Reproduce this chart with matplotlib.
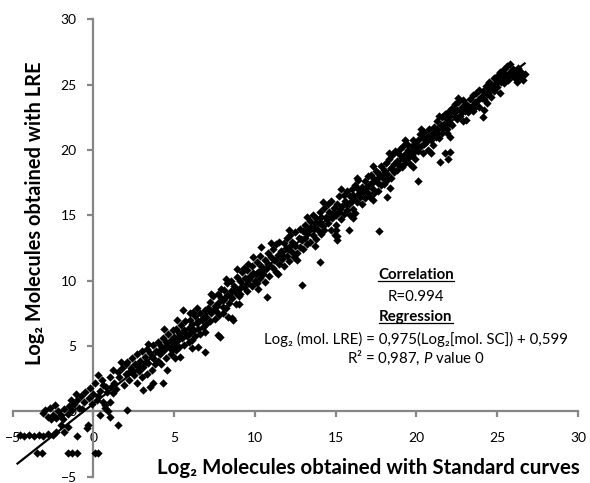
import matplotlib.pyplot as plt
from matplotlib.lines import Line2D

plt.rcParams['font.family'] = ['Lato', 'DejaVu Sans']
plt.rcParams['mathtext.fontset'] = 'custom'
plt.rcParams['mathtext.rm'] = 'Lato'
plt.rcParams['mathtext.it'] = 'Lato:italic'
plt.rcParams['mathtext.bf'] = 'Lato:bold'

# Datos (Log2 moléculas: curva estándar vs LRE)
pts_low = [(-4.55, -1.8), (-4.3, -1.85), (-4.0, -1.8), (-3.7, -1.9), (-3.4, -1.8), (-3.1, -1.85),
           (-2.8, -1.75), (-2.5, -1.8), (-2.3, -1.6), (-3.5, -3.2), (-3.2, -3.2), (-1.6, -3.2),
           (-1.3, -3.2), (-1.0, -3.2), (0.1, -3.2), (0.3, -3.2), (-1.8, -1.6), (-1.0, -1.9),
           (-0.4, -1.3), (-0.35, -1.0), (-1.6, -1.2), (-2.0, -1.0), (-3.1, -0.1), (-3.0, 0.1),
           (-2.8, -0.4), (-2.6, -0.6), (-2.5, -0.3), (-2.3, -0.5), (-2.2, 0.0), (-2.0, -0.3),
           (-1.9, -0.6), (-1.8, 0.2), (-1.6, -0.2), (-1.5, 0.4), (-1.3, 0.1), (-1.2, 0.6),
           (-1.0, 0.9), (-0.9, 0.3), (-0.8, 1.2), (-0.6, 0.7), (-0.5, 1.5), (-0.3, 1.0),
           (-0.2, 1.8), (0.0, 1.3), (0.1, 2.2), (0.2, 0.9), (0.4, 1.6), (0.5, 2.4), (0.6, 0.7),
           (0.7, 0.5), (0.8, 1.9), (0.9, 0.0), (1.0, -0.4), (1.0, 2.6), (1.2, 1.4), (1.3, 2.2),
           (1.5, -1.0), (1.5, 3.0), (1.6, 2.6), (1.8, 3.3), (1.9, 2.0), (2.1, 0.1), (2.0, 3.6),
           (0.4, -0.3), (0.85, 1.5), (1.0, 0.7), (0.7, 0.3), (-2.7, 0.3), (-2.4, 0.5),
           (-1.4, 0.9), (-1.1, 1.3), (-0.7, 0.2), (-0.1, 0.6), (0.3, 1.2), (0.6, 2.0),
           (1.1, 1.9), (1.4, 1.7), (1.7, 3.8), (2.2, 3.0), (1.2, 3.2), (0.3, 2.8)]

pts_a = [(2.0, 2.9), (2.1, 3.8), (2.2, 2.4), (2.3, 3.3), (2.4, 4.1), (2.5, 2.8), (2.6, 3.6),
         (2.7, 2.2), (2.7, 4.4), (2.8, 3.1), (2.9, 3.9), (3.0, 2.6), (3.0, 4.6),
         (3.1, 3.4), (3.2, 4.2), (3.3, 2.9), (3.3, 4.8), (3.4, 3.7), (3.5, 4.5), (3.6, 3.2),
         (3.7, 4.1), (3.7, 5.1), (3.8, 3.6), (3.9, 4.6), (4.0, 3.9), (4.0, 5.3),
         (4.1, 4.4), (4.2, 5.0), (4.2, 3.6), (4.3, 5.6), (4.4, 4.7), (4.5, 5.3), (4.5, 4.1),
         (4.6, 5.9), (4.7, 4.9), (4.8, 5.5), (4.8, 4.4), (4.9, 6.2), (5.0, 5.1), (5.0, 5.7),
         (5.1, 4.7), (5.1, 6.3), (5.2, 5.4), (5.3, 6.0), (5.3, 4.9), (5.4, 6.6), (5.5, 5.6),
         (5.6, 6.2), (5.6, 5.1), (5.7, 6.9), (5.8, 5.8), (5.9, 6.4), (5.9, 5.3), (6.0, 7.0),
         (6.0, 6.0), (6.1, 5.5), (6.1, 6.7), (6.2, 6.2), (6.3, 7.3), (6.3, 5.8), (6.4, 6.8),
         (6.5, 6.3), (6.6, 7.5), (6.6, 5.9), (6.7, 7.0), (6.8, 6.5), (6.9, 7.8), (6.9, 6.1),
         (7.0, 7.2), (7.0, 6.7), (7.1, 7.9), (7.2, 6.9), (7.2, 8.4), (7.3, 7.5), (7.4, 8.8),
         (7.5, 7.1), (7.5, 8.1), (7.6, 7.7), (7.7, 9.0), (7.7, 8.3), (7.8, 7.4), (7.9, 8.7),
         (7.9, 9.4), (8.0, 8.0), (8.0, 7.5)]

pts_b = [(8.1, 8.6), (8.1, 9.3), (8.2, 7.9), (8.3, 8.9), (8.3, 9.8), (8.4, 8.3), (8.5, 9.2),
         (8.5, 10.0), (8.6, 8.7), (8.7, 9.6), (8.8, 8.2), (8.8, 9.1), (8.9, 10.3), (9.0, 9.4),
         (9.0, 8.8), (9.1, 10.0), (9.1, 9.0), (9.2, 10.7), (9.3, 9.5), (9.3, 11.0), (9.4, 10.2),
         (9.5, 9.2), (9.5, 10.8), (9.6, 9.8), (9.6, 11.3), (9.7, 10.4), (9.8, 9.6), (9.8, 11.1),
         (9.9, 10.6), (10.0, 10.0), (10.1, 11.4), (10.1, 9.8), (10.2, 10.7), (10.3, 11.9),
         (10.3, 10.2), (10.4, 11.1), (10.4, 12.6), (10.5, 10.5), (10.6, 11.6), (10.6, 9.9),
         (10.7, 10.9), (10.8, 12.1), (10.8, 11.3), (10.9, 10.4), (11.0, 11.8), (11.1, 11.0),
         (11.1, 12.4), (11.2, 11.6), (11.3, 10.7), (11.3, 12.8), (11.4, 12.0), (11.5, 11.3),
         (11.5, 13.0), (11.6, 12.3), (11.7, 11.7), (11.8, 12.9), (11.8, 11.1), (11.9, 12.5),
         (12.0, 13.3), (12.0, 11.9), (12.1, 12.6), (12.1, 11.5), (12.2, 13.5), (12.3, 12.2),
         (12.3, 13.0), (12.4, 11.8), (12.5, 13.7), (12.5, 12.7), (12.6, 12.1), (12.7, 13.3),
         (12.8, 12.6), (12.8, 14.0), (12.9, 13.1), (13.0, 12.4), (13.0, 13.8), (13.1, 13.3),
         (13.1, 14.3), (13.2, 12.8), (13.3, 13.9), (13.4, 14.6), (13.4, 13.0), (13.5, 14.1),
         (13.6, 13.5), (13.6, 15.0), (13.7, 14.4), (13.8, 13.2), (13.8, 14.8), (13.9, 13.9),
         (14.0, 15.3), (14.0, 14.5)]

pts_c = [(14.1, 13.6), (14.1, 14.9), (14.2, 14.2), (14.3, 15.6), (14.3, 13.9), (14.4, 14.9),
         (14.5, 15.9), (14.5, 14.4), (14.6, 15.3), (14.7, 13.9), (14.7, 16.1), (14.8, 14.8),
         (14.9, 15.6), (15.0, 15.0), (15.0, 14.3), (15.1, 15.9), (15.2, 15.3), (15.2, 16.5),
         (15.3, 14.7), (15.4, 15.7), (15.5, 16.6), (15.5, 15.1), (15.6, 16.1), (15.7, 15.4),
         (15.7, 16.9), (15.8, 15.9), (15.9, 16.5), (15.9, 15.0), (16.0, 17.0), (16.0, 16.1),
         (16.1, 15.5), (16.1, 16.6), (16.2, 17.3), (16.3, 16.0), (16.4, 17.0), (16.4, 17.7),
         (16.5, 16.4), (16.6, 17.2), (16.6, 15.9), (16.7, 16.8), (16.8, 17.6), (16.8, 16.3),
         (16.9, 17.1), (17.0, 16.7), (17.0, 18.0), (17.1, 17.4), (17.1, 16.4), (17.2, 18.1),
         (17.3, 17.0), (17.4, 17.8), (17.4, 16.7), (17.5, 18.4), (17.6, 17.5), (17.6, 16.9),
         (17.7, 18.2), (17.8, 17.3), (17.8, 18.8), (17.9, 17.9), (18.0, 17.4), (18.0, 18.5),
         (18.1, 19.0), (18.2, 18.2), (18.2, 17.7), (18.3, 19.3), (18.4, 18.6), (18.4, 17.9),
         (18.5, 19.6), (18.6, 18.9), (18.6, 18.3), (18.7, 19.9), (18.8, 19.2), (18.8, 18.5),
         (18.9, 19.7), (19.0, 18.8), (19.0, 20.1), (19.1, 19.4), (19.1, 18.7), (19.2, 20.3),
         (19.3, 19.7), (19.3, 19.0), (19.4, 20.5), (19.5, 19.4), (19.5, 20.0), (19.6, 18.9),
         (19.7, 20.3), (19.7, 19.6), (19.8, 20.8), (19.9, 19.9), (19.9, 19.3), (20.0, 20.5)]

pts_d = [(20.1, 19.9), (20.1, 20.8), (20.2, 21.2), (20.3, 20.3), (20.4, 20.9), (20.4, 19.8),
         (20.5, 21.4), (20.6, 20.6), (20.7, 21.1), (20.7, 20.0), (20.8, 21.6), (20.9, 20.8),
         (21.0, 21.3), (21.0, 20.4), (21.1, 21.8), (21.2, 21.0), (21.3, 21.6), (21.3, 22.2),
         (21.4, 20.9), (21.5, 21.9), (21.6, 22.5), (21.6, 21.3), (21.7, 22.0), (21.8, 22.8),
         (21.9, 21.6), (21.9, 22.4), (22.0, 23.0), (22.0, 22.1), (22.1, 22.6), (22.2, 23.2),
         (22.2, 21.9), (22.3, 22.9), (22.4, 23.5), (22.5, 22.4), (22.5, 23.1), (22.6, 23.7),
         (22.7, 22.6), (22.8, 23.3), (22.9, 22.2), (22.9, 23.8), (23.0, 23.0), (23.1, 23.5),
         (23.2, 22.9), (23.3, 23.9), (23.4, 23.3), (23.5, 24.2), (23.5, 23.0), (23.6, 23.6),
         (23.7, 24.4), (23.8, 23.8), (23.9, 24.6), (23.9, 23.3), (24.0, 24.1), (24.1, 24.5),
         (24.2, 23.9), (24.3, 24.9), (24.4, 24.3), (24.5, 25.2), (24.5, 24.7), (24.6, 24.1),
         (24.7, 25.0), (24.8, 25.5), (24.8, 24.5), (24.9, 25.1), (25.0, 25.7), (25.0, 24.8),
         (25.1, 25.3), (25.2, 26.0), (25.3, 25.6), (25.4, 26.2), (25.4, 25.1), (25.5, 25.8),
         (25.6, 26.4), (25.7, 25.4), (25.8, 26.0), (25.8, 26.6), (25.9, 25.7), (26.0, 26.2),
         (26.1, 25.5), (26.2, 25.9), (26.3, 26.3), (26.4, 25.6), (26.5, 26.0), (26.6, 25.4),
         (26.7, 25.8), (26.2, 25.2)]

# puntos cercanos a la recta que rellenan la banda
pts_mid = [(2.45, 3.1), (2.85, 3.4), (3.25, 3.8), (3.65, 4.2), (4.05, 4.6), (4.45, 4.9),
           (4.85, 5.3), (5.25, 5.7), (5.65, 6.0), (6.05, 6.4), (6.45, 6.9), (6.85, 7.2),
           (7.25, 7.7), (7.65, 8.1), (8.05, 8.5), (8.45, 8.8), (8.85, 9.3), (9.25, 9.7),
           (9.65, 10.1), (10.05, 10.5), (10.45, 10.9), (10.85, 11.2), (11.25, 11.6),
           (11.65, 12.0), (12.05, 12.4), (12.45, 12.8), (12.85, 13.2), (13.25, 13.6),
           (13.65, 14.0), (14.05, 14.4), (14.45, 14.7), (14.85, 15.2), (15.25, 15.5),
           (15.65, 15.9), (16.05, 16.3), (16.45, 16.7), (16.85, 17.1), (17.25, 17.5),
           (17.65, 17.9), (18.05, 18.3), (18.45, 18.6), (18.85, 19.0), (19.25, 19.4),
           (19.65, 19.8), (20.05, 20.2), (20.45, 20.5), (20.85, 20.9), (21.25, 21.3),
           (21.65, 21.7), (22.05, 22.1), (22.45, 22.5), (22.85, 22.9), (23.25, 23.3),
           (23.65, 23.7), (24.05, 24.0), (24.45, 24.4), (24.85, 24.8), (25.25, 25.2),
           (25.65, 25.6), (26.05, 25.9)]

# bordes de la banda
pts_borde = [(3.4, 5.2), (4.4, 6.3), (5.2, 7.0), (6.4, 7.9), (7.3, 9.0), (8.2, 10.1),
             (8.9, 10.9), (9.9, 11.8), (11.0, 12.9), (12.1, 13.9), (13.2, 14.9), (14.2, 16.0),
             (15.3, 17.0), (16.3, 17.9), (17.3, 18.8), (18.3, 19.8), (19.3, 20.8),
             (20.3, 21.6), (21.4, 22.6), (22.6, 24.0), (9.0, 8.2), (10.2, 9.4), (11.4, 10.5),
             (12.6, 11.6), (13.7, 12.7), (15.0, 13.9), (16.2, 15.2), (17.3, 16.2),
             (19.8, 18.7), (20.9, 19.8), (23.1, 22.3), (24.4, 23.6)]

pts_out = [(3.07, 1.64), (3.5, 1.87), (3.68, 2.18), (4.3, 2.18), (4.55, 3.17), (5.05, 4.1),
           (5.36, 4.18), (4.86, 4.7), (6.1, 4.86), (6.47, 4.94), (6.9, 4.55), (5.54, 7.77),
           (6.0, 7.5), (6.16, 7.6), (7.7, 5.85), (7.83, 5.7), (8.33, 7.23), (8.58, 7.15),
           (8.64, 7.0), (10.74, 8.76), (12.9, 9.7), (14.0, 11.4), (15.1, 13.1), (15.1, 13.4),
           (15.8, 13.9), (14.95, 13.5), (16.1, 14.8), (17.7, 13.8), (18.35, 17.1), (18.2, 16.4),
           (20.1, 17.6), (21.45, 19.1), (21.95, 19.3), (21.8, 19.8), (22.1, 19.85), (21.9, 21.3),
           (22.1, 21.0), (24.1, 22.5), (24.2, 23.1), (23.6, 23.3), (25.2, 24.4)]

# Recta de regresión mostrada en el gráfico
pendiente = 0.975
intercepto = 0.599
rango_x = [-4.7, 26.7]

gris = '#868686'
W, H = 590, 483

fig = plt.figure(figsize=(W / 100, H / 100), dpi=100)
ax = fig.add_axes([0.0215, 0.0128, 0.958, 0.947])

for pts in [pts_low, pts_a, pts_b, pts_c, pts_d, pts_mid, pts_borde, pts_out]:
    xs = [p[0] for p in pts]
    ys = [p[1] for p in pts]
    ax.scatter(xs, ys, marker='D', s=18, color='black', linewidths=0, zorder=3)

ax.plot(rango_x, [pendiente * v + intercepto for v in rango_x], color='black',
        linewidth=1.6, zorder=4)

ax.set_xlim(-5, 30)
ax.set_ylim(-5, 30)
ax.set_xticks(range(-5, 31, 5))
ax.set_yticks(range(-5, 31, 5))

ax.spines['left'].set_position(('data', 0))
ax.spines['bottom'].set_position(('data', 0))
ax.spines['top'].set_visible(False)
ax.spines['right'].set_visible(False)
for s in ['left', 'bottom']:
    ax.spines[s].set_color(gris)
    ax.spines[s].set_linewidth(1.6)
ax.tick_params(axis='both', direction='out', length=4, width=1.6, color=gris,
               labelsize=10, labelcolor='black')
ax.tick_params(axis='x', pad=11)
ax.tick_params(axis='y', pad=8)
ax.patch.set_alpha(0)

xlab = fig.text(368.5 / W, 1 - 468 / H, 'Log₂ Molecules obtained with Standard curves',
                ha='center', va='center', fontsize=13, fontweight='bold')
ylab = fig.text(35 / W, 1 - 213.5 / H, 'Log₂ Molecules obtained with LRE', rotation=90,
                ha='center', va='center', fontsize=13, fontweight='bold')

cx = 416 / W
t1 = fig.text(cx, 1 - 275 / H, 'Correlation', ha='center', va='center', fontweight='bold')
t_r = fig.text(cx, 1 - 297 / H, 'R=0.994', ha='center', va='center')
t2 = fig.text(cx, 1 - 317 / H, 'Regression', ha='center', va='center', fontweight='bold')
t_eq = fig.text(cx, 1 - 339 / H, 'Log₂ (mol. LRE) = 0,975(Log₂[mol. SC]) + 0,599',
                ha='center', va='center')
t_r2 = fig.text(cx, 1 - 358 / H, 'R² = 0,987, $\\mathit{P}$ value 0', ha='center',
                va='center')

# ajustar tamaños de letra al ancho medido en la imagen original
r = fig.canvas.get_renderer()
bb = xlab.get_window_extent(renderer=r)
xlab.set_fontsize(13 * 423 / bb.width)
bb = ylab.get_window_extent(renderer=r)
ylab.set_fontsize(13 * 303 / bb.height)
bb = t_eq.get_window_extent(renderer=r)
fs = t_eq.get_fontsize() * 303 / bb.width
for t in [t1, t_r, t2, t_eq, t_r2]:
    t.set_fontsize(fs)

# subrayado de los títulos
fig.canvas.draw()
for t in [t1, t2]:
    bb = t.get_window_extent(renderer=r)
    yy = bb.y0 + 1.5
    fig.add_artist(Line2D([bb.x0 / W, bb.x1 / W], [yy / H, yy / H], color='black',
                          linewidth=0.9, transform=fig.transFigure))

plt.savefig('out.png', dpi=100)
